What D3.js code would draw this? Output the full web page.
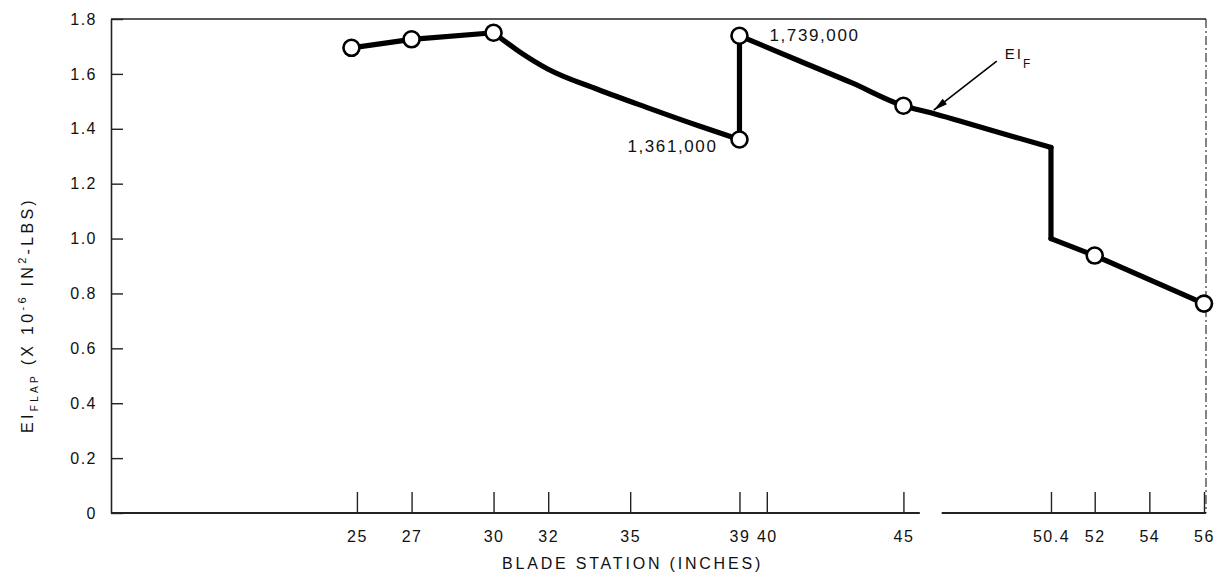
<!DOCTYPE html>
<html>
<head>
<meta charset="utf-8">
<script src="https://cdn.jsdelivr.net/npm/d3@7"></script>
<style>
  html, body { margin: 0; padding: 0; background: #fff; }
  svg { display: block; }
  text { font-family: "Liberation Sans", Arial, Helvetica, sans-serif; fill: #111; }
</style>
</head>
<body>
<svg id="chart" width="1223" height="578"></svg>
<script>
// ---- data ----
const lineStations = [24.8, 27, 30, 30.9, 32, 33.8, 35.6, 37.5, 39, 39, 41.2, 43.1, 45, 46, 47, 49, 50.4, 50.4, 52, 56];
const lineValues   = [1.695, 1.726, 1.75, 1.684, 1.617, 1.544, 1.478, 1.411, 1.361, 1.739, 1.647, 1.568, 1.484, 1.458, 1.43, 1.372, 1.332, 1.0, 0.938, 0.763];
// curve pieces (index ranges into the line arrays) and whether each is smooth
const pieceStart  = [0, 2, 8, 9, 16, 17];
const pieceEnd    = [2, 8, 9, 16, 17, 19];
const pieceSmooth = [false, true, false, true, false, false];
const markerStations = [24.8, 27, 30, 39, 39, 45, 52, 56];
const markerValues   = [1.695, 1.726, 1.75, 1.361, 1.739, 1.484, 0.938, 0.763];
const xTickValues = [25, 27, 30, 32, 35, 39, 40, 45, 50.4, 52, 54, 56];
const xTickLabels = ["25", "27", "30", "32", "35", "39", "40", "45", "50.4", "52", "54", "56"];
const yTickValues = [0, 0.2, 0.4, 0.6, 0.8, 1.0, 1.2, 1.4, 1.6, 1.8];
const yTickLabels = ["0", "0.2", "0.4", "0.6", "0.8", "1.0", "1.2", "1.4", "1.6", "1.8"];
const annotations = [
  { station: 39, value: 1.361, text: "1,361,000", side: "left" },
  { station: 39, value: 1.739, text: "1,739,000", side: "right" }
];
const arrowStation = 46;      // where the EI_F arrow touches the curve
const axisGap = [45.6, 46.4]; // break in the bottom axis line

// ---- layout ----
const svg = d3.select("#chart");
const x = d3.scaleLinear().domain([16, 56]).range([111, 1204]);
const y = d3.scaleLinear().domain([0, 1.8]).range([513, 19]);

// frame: top line and dashed right edge
svg.append("line").attr("x1", x(16)).attr("x2", x(56) + 2).attr("y1", y(1.8)).attr("y2", y(1.8))
  .attr("stroke", "#222").attr("stroke-width", 1.5);
svg.append("line").attr("x1", x(56) + 2).attr("x2", x(56) + 2).attr("y1", y(1.8)).attr("y2", y(0))
  .attr("stroke", "#333").attr("stroke-width", 1.2).attr("stroke-dasharray", "9,3,2,3");

// left axis
const yAxis = d3.axisLeft(y).tickValues(yTickValues)
  .tickFormat((d, i) => yTickLabels[i]).tickSize(-12).tickSizeOuter(0).tickPadding(14);
const gy = svg.append("g").attr("transform", `translate(${x(16)},0)`).call(yAxis);
gy.select(".domain").attr("stroke", "#222").attr("stroke-width", 1.6);
gy.selectAll(".tick line").attr("stroke", "#222").attr("stroke-width", 1.4);
gy.selectAll(".tick text").attr("font-size", 16).attr("letter-spacing", 1.5)
  .attr("font-family", "Liberation Sans, Arial, sans-serif").attr("fill", "#111");

// bottom axis
const xAxis = d3.axisBottom(x).tickValues(xTickValues)
  .tickFormat((d, i) => xTickLabels[i]).tickSize(-21).tickSizeOuter(0).tickPadding(18);
const gx = svg.append("g").attr("transform", `translate(0,${y(0)})`).call(xAxis);
gx.select(".domain").remove();
gx.selectAll(".tick line").attr("stroke", "#222").attr("stroke-width", 1.4);
gx.selectAll(".tick text").attr("font-size", 16).attr("letter-spacing", 1.5)
  .attr("font-family", "Liberation Sans, Arial, sans-serif").attr("fill", "#111");
// axis baseline with small break
gx.append("line").attr("x1", x(16)).attr("x2", x(axisGap[0])).attr("y1", 0).attr("y2", 0)
  .attr("stroke", "#222").attr("stroke-width", 1.8);
gx.append("line").attr("x1", x(axisGap[1])).attr("x2", x(56) + 2).attr("y1", 0).attr("y2", 0)
  .attr("stroke", "#222").attr("stroke-width", 1.8);

// axis titles
svg.append("text").attr("x", (x(16) + x(56)) / 2 - 25).attr("y", 569)
  .attr("text-anchor", "middle").attr("font-size", 16).attr("letter-spacing", 2.8)
  .text("BLADE STATION (INCHES)");

const yt = svg.append("text").attr("transform", "translate(33,315) rotate(-90)")
  .attr("text-anchor", "middle").attr("font-size", 16).attr("letter-spacing", 3.3);
yt.append("tspan").text("EI");
yt.append("tspan").attr("font-size", 10).attr("dy", 5).text("FLAP");
yt.append("tspan").attr("dy", -5).text(" (X 10");
yt.append("tspan").attr("font-size", 11).attr("dy", -7).text("-6");
yt.append("tspan").attr("dy", 7).text(" IN");
yt.append("tspan").attr("font-size", 11).attr("dy", -7).text("2");
yt.append("tspan").attr("dy", 7).text("-LBS)");

// the curve, drawn piece by piece
const pts = lineStations.map((s, i) => [s, lineValues[i]]);
const linear = d3.line().x(d => x(d[0])).y(d => y(d[1]));
const smooth = d3.line().x(d => x(d[0])).y(d => y(d[1])).curve(d3.curveMonotoneX);
const curveG = svg.append("g");
pieceStart.forEach((s, k) => {
  curveG.append("path").datum(pts.slice(s, pieceEnd[k] + 1))
    .attr("d", pieceSmooth[k] ? smooth : linear)
    .attr("fill", "none").attr("stroke", "#000").attr("stroke-width", 5.2)
    .attr("stroke-linejoin", "round").attr("stroke-linecap", "round");
});

// markers
svg.append("g").selectAll("circle")
  .data(markerStations.map((s, i) => [s, markerValues[i]]))
  .join("circle")
  .attr("cx", d => x(d[0])).attr("cy", d => y(d[1])).attr("r", 8)
  .attr("fill", "#fff").attr("stroke", "#000").attr("stroke-width", 2.6);

// value annotations
annotations.forEach(a => {
  const t = svg.append("text").attr("font-size", 17).attr("letter-spacing", 1.6).text(a.text);
  if (a.side === "left") {
    t.attr("x", x(a.station) - 22).attr("y", y(a.value) + 13).attr("text-anchor", "end");
  } else {
    t.attr("x", x(a.station) + 30).attr("y", y(a.value) + 5).attr("text-anchor", "start");
  }
});

// EI_F arrow
const tipVal = d3.scaleLinear().domain([45, 47]).range([1.484, 1.43])(arrowStation);
const tipX = x(arrowStation) + 3, tipY = y(tipVal) - 3;
const tailX = tipX + 63, tailY = tipY - 49;
svg.append("line").attr("x1", tailX).attr("y1", tailY).attr("x2", tipX).attr("y2", tipY)
  .attr("stroke", "#000").attr("stroke-width", 1.6);
const ang = Math.atan2(tipY - tailY, tipX - tailX);
const hl = 14, hw = 3.5;
const bx = tipX - hl * Math.cos(ang), by = tipY - hl * Math.sin(ang);
svg.append("path")
  .attr("d", `M${tipX},${tipY}L${bx - hw * Math.sin(ang)},${by + hw * Math.cos(ang)}L${bx + hw * Math.sin(ang)},${by - hw * Math.cos(ang)}Z`)
  .attr("fill", "#000");
const lab = svg.append("text").attr("x", tailX + 8).attr("y", tailY - 2).attr("font-size", 15).attr("letter-spacing", 2);
lab.append("tspan").text("EI");
lab.append("tspan").attr("font-size", 12).attr("dy", 9).text("F");
</script>
</body>
</html>
